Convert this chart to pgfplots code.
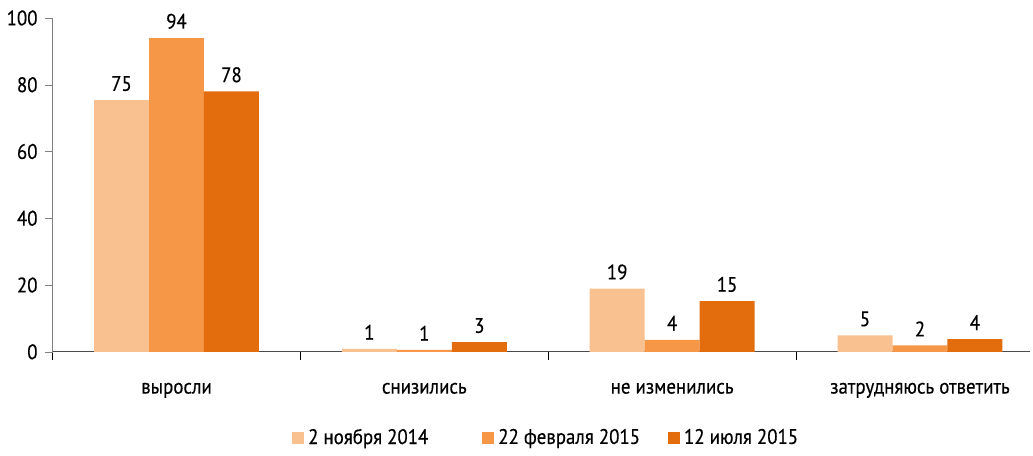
\documentclass[border=0pt]{standalone}
\usepackage{pgfplots}
\pgfplotsset{compat=1.18}
\usepackage{fontspec}
\setmainfont{PT Sans}[FakeStretch=0.9, FakeBold=0.4]
\definecolor{c1}{HTML}{F9C190}
\definecolor{c2}{HTML}{F59746}
\definecolor{c3}{HTML}{E36C0C}
\definecolor{axgray}{HTML}{808080}
\begin{document}
\begin{tikzpicture}
\begin{axis}[
  scale only axis=true,
  width=489pt, height=167pt,
  ybar=0pt, bar width=27.5pt,
  xmin=-0.5, xmax=3.444,
  ymin=0, ymax=100,
  ytick={0,20,...,100},
  xtick={0,1,2,3},
  xticklabels={выросли, снизились, не изменились, затрудняюсь ответить},
  major x tick style={draw=none},
  minor xtick={-0.5,0.5,1.5,2.5},
  minor x tick style={draw=black, thin},
  minor tick length=4pt,
  xtick pos=bottom,
  tick align=outside,
  ytick pos=left,
  major y tick style={draw=axgray},
  major tick length=4pt,
  axis x line*=bottom,
  axis y line*=left,
  x axis line style={draw=black!70, -},
  y axis line style={draw=axgray, -},
  xticklabel style={yshift=-8pt},
  font=\fontsize{10.5pt}{12pt}\selectfont,
  ticklabel style={font=\fontsize{10.5pt}{12pt}\selectfont},
  /pgf/number format/assume math mode=true,
  nodes near coords,
  point meta=explicit symbolic,
  nodes near coords style={font=\fontsize{10.5pt}{12pt}\selectfont, color=black, yshift=1pt},
  legend style={draw=none, at={(0.506,-0.258)}, anchor=center, legend columns=3,
    font=\fontsize{10.5pt}{12pt}\selectfont,
    /tikz/every even column/.append style={column sep=0pt}},
  legend image code/.code={\fill[#1] (0pt,-3pt) rectangle (6pt,3pt);},
  clip=false,
]
\addplot[fill=c1, draw=none] coordinates {(0,75.4) [75] (1,0.9) [1] (2,18.9) [19] (3,4.9) [5]};
\addplot[fill=c2, draw=none] coordinates {(0,94) [94] (1,0.6) [1] (2,3.6) [4] (3,1.9) [2]};
\addplot[fill=c3, draw=none] coordinates {(0,78) [78] (1,2.9) [3] (2,15.2) [15] (3,3.8) [4]};
\legend{2 ноября 2014\hspace*{25pt}\mbox{}, 22 февраля 2015\hspace*{12pt}\mbox{}, 12 июля 2015}
\end{axis}
\useasboundingbox (current axis.south west)+(-26pt,-48pt) rectangle ([xshift=1.5pt,yshift=9pt]current axis.north east);
\end{tikzpicture}
\end{document}
